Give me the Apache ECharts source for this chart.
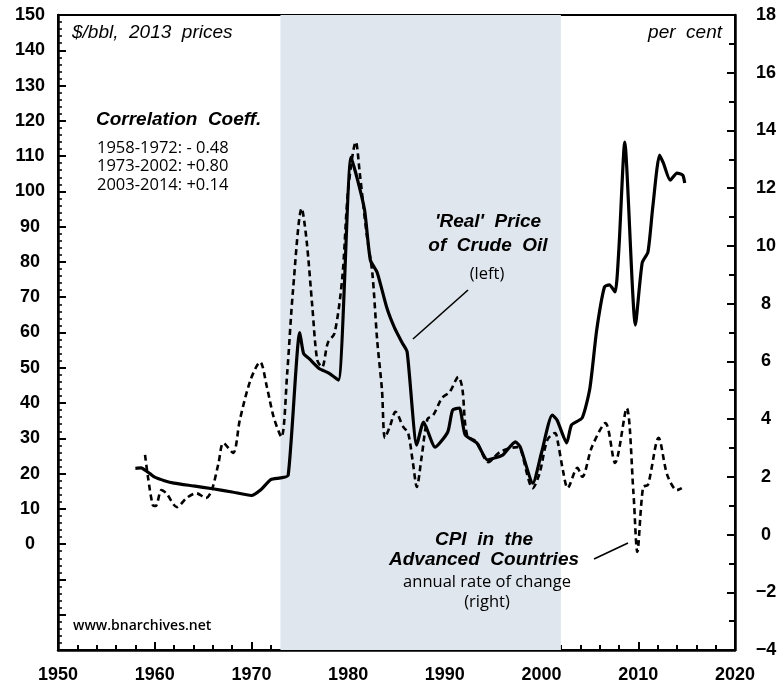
<!DOCTYPE html>
<html>
<head>
<meta charset="utf-8">
<title>Real oil price vs CPI</title>
<script src="https://cdn.jsdelivr.net/npm/echarts@6/dist/echarts.min.js"></script>
<style>
  html, body { margin: 0; padding: 0; background: #fff; }
  #chart { width: 784px; height: 687px; }
</style>
</head>
<body>
<div id="chart"></div>
<script>
// 'real' price of crude oil, $/bbl 2013 prices (left axis)
const oilYears = [
  1958.0, 1958.6, 1959.0, 1959.5, 1960.0, 1961.0, 1962.0, 1964.0, 1966.0, 1968.0,
  1970.0, 1971.0, 1972.0, 1973.0, 1973.8, 1975.0, 1975.4, 1976.0, 1977.0, 1978.0,
  1979.0, 1980.3, 1981.0, 1981.7, 1982.3, 1983.0, 1984.0, 1984.8, 1985.6, 1986.1,
  1987.1, 1987.8, 1989.0, 1990.3, 1990.8, 1991.5, 1992.1, 1993.3, 1994.4, 1995.2,
  1996.0, 1997.3, 1997.8, 1999.1, 2000.0, 2001.1, 2001.6, 2002.6, 2003.1, 2004.2,
  2005.0, 2005.7, 2006.5, 2007.0, 2007.6, 2008.0, 2008.6, 2009.7, 2010.4, 2011.0,
  2011.5, 2012.2, 2012.6, 2013.3, 2014.0, 2014.6, 2014.8
]
const oilPrice = [
  21.5, 21.6, 21.0, 20.0, 19.0, 18.0, 17.3, 16.5, 15.7, 14.8,
  13.8, 15.5, 18.3, 18.8, 19.5, 60.0, 54.0, 52.5, 49.8, 48.5,
  46.5, 109.7, 103.0, 94.7, 80.5, 77.0, 67.0, 61.3, 57.0, 54.5,
  28.1, 34.6, 27.5, 31.8, 38.0, 38.6, 31.0, 28.7, 23.9, 24.5,
  25.3, 29.0, 27.5, 17.3, 26.0, 36.6, 35.2, 28.7, 33.8, 35.8,
  44.3, 60.7, 72.9, 73.5, 71.5, 84.0, 114.0, 62.1, 79.7, 82.8,
  95.6, 110.3, 108.0, 103.2, 105.2, 104.6, 102.4
]

// CPI in the advanced countries, annual rate of change, per cent (right axis)
const cpiYears = [
  1959.0, 1959.3, 1959.8, 1960.1, 1960.7, 1961.2, 1962.3, 1963.3, 1964.3, 1965.3,
  1965.9, 1966.6, 1967.1, 1968.1, 1968.8, 1969.9, 1970.9, 1971.6, 1972.3, 1973.1,
  1973.7, 1974.3, 1975.2, 1975.7, 1976.3, 1976.8, 1977.3, 1977.9, 1978.6, 1979.4,
  1980.0, 1980.8, 1981.2, 1981.9, 1982.5, 1983.0, 1983.5, 1983.8, 1984.3, 1984.9,
  1985.7, 1986.2, 1986.7, 1987.1, 1987.6, 1988.2, 1988.8, 1989.7, 1990.5, 1991.4,
  1991.8, 1992.3, 1993.3, 1994.5, 1995.7, 1997.5, 1997.8, 1999.1, 1999.8, 2000.6,
  2001.4, 2001.7, 2002.2, 2002.7, 2003.7, 2004.2, 2005.2, 2006.6, 2007.6, 2008.8,
  2009.5, 2009.9, 2010.5, 2011.0, 2012.1, 2013.0, 2014.0, 2014.5
]
const cpiRate = [
  2.76, 2.0, 1.02, 0.99, 1.54, 1.43, 0.95, 1.27, 1.43, 1.27,
  1.54, 2.48, 3.17, 2.83, 3.97, 5.35, 5.98, 5.11, 4.07, 3.38,
  5.6, 8.47, 11.3, 10.2, 7.88, 6.05, 5.8, 6.64, 6.98, 8.92,
  11.94, 13.6, 12.53, 10.45, 9.06, 6.74, 5.0, 3.35, 3.73, 4.25,
  3.73, 3.52, 2.48, 1.65, 2.69, 4.0, 4.14, 4.73, 4.94, 5.46,
  5.08, 3.45, 3.2, 2.51, 2.86, 3.03, 3.0, 1.61, 2.13, 3.28,
  3.52, 3.17, 2.24, 1.61, 2.31, 2.0, 3.03, 3.86, 2.48, 4.38,
  1.44, -0.6, 1.65, 1.72, 3.35, 2.06, 1.54, 1.61
]

// shaded period
const shadeFrom = 1973
const shadeTo = 2002

const corrLines = ['1958-1972: - 0.48', '1973-2002: +0.80', '2003-2014: +0.14']

const chart = echarts.init(document.getElementById('chart'), null, { renderer: 'canvas' })

const axisFont = { fontFamily: 'Liberation Sans', fontWeight: 'bold', fontSize: 18, color: '#000' }
const boldItalic = 'italic bold 19px "Liberation Sans"'
const plain = '16.5px "Open Sans"'
const unitFont = 'italic 19px "Liberation Sans"'
const tickStyle = { color: '#000', width: 2 }

// helper for the free-standing annotation texts
function label(text, x, y, font, align) {
  return {
    type: 'text', x, y, z: 10,
    style: { text, font, fill: '#000', textAlign: align || 'left', textVerticalAlign: 'middle' }
  }
}

const option = {
  animation: false,
  backgroundColor: '#fff',
  grid: {
    left: 58, right: 49, top: 15, bottom: 37,
    show: true, borderColor: '#000', borderWidth: 2, backgroundColor: 'transparent'
  },
  xAxis: {
    type: 'value',
    min: 1950, max: 2020, interval: 10,
    axisLine: { show: true, onZero: false, lineStyle: { color: '#000', width: 2.5 } },
    axisTick: { show: true, inside: true, length: 8, lineStyle: tickStyle },
    minorTick: { show: true, splitNumber: 5, length: 5, lineStyle: tickStyle },
    splitLine: { show: false },
    minorSplitLine: { show: false },
    axisLabel: { ...axisFont, margin: 16, formatter: v => String(v) }
  },
  yAxis: [
    {
      type: 'value',
      min: -30, max: 150, interval: 10,
      axisLine: { show: true, onZero: false, lineStyle: { color: '#000', width: 2.5 } },
      axisTick: { show: true, inside: true, length: 8, lineStyle: tickStyle },
      minorTick: { show: true, splitNumber: 5, length: 4, lineStyle: { color: '#000', width: 1.5 } },
      splitLine: { show: false },
      minorSplitLine: { show: false },
      axisLabel: { ...axisFont, align: 'center', margin: 28, formatter: v => (v < 0 ? '' : String(v)) }
    },
    {
      type: 'value',
      position: 'right',
      min: -4, max: 18, interval: 2,
      axisLine: { show: true, onZero: false, lineStyle: { color: '#000', width: 2.5 } },
      axisTick: { show: true, inside: true, length: 8, lineStyle: tickStyle },
      minorTick: { show: true, splitNumber: 2, length: 6, lineStyle: tickStyle },
      splitLine: { show: false },
      minorSplitLine: { show: false },
      axisLabel: { ...axisFont, align: 'center', margin: 31, formatter: v => (v < 0 ? '\u2212' + (-v) : String(v)) }
    }
  ],
  series: [
    {
      name: "'Real' Price of Crude Oil",
      type: 'line',
      yAxisIndex: 0,
      data: oilYears.map((y, i) => [y, oilPrice[i]]),
      smooth: 0.2,
      symbol: 'none',
      z: 3,
      lineStyle: { color: '#000', width: 3.2 },
      markArea: {
        silent: true,
        itemStyle: { color: '#dfe6ed' },
        data: [[{ xAxis: shadeFrom }, { xAxis: shadeTo }]]
      }
    },
    {
      name: 'CPI in the Advanced Countries',
      type: 'line',
      yAxisIndex: 1,
      data: cpiYears.map((y, i) => [y, cpiRate[i]]),
      smooth: 0.3,
      symbol: 'none',
      z: 4,
      lineStyle: { color: '#000', width: 2.6, type: [6, 4] }
    }
  ],
  graphic: [
    label('$/bbl,  2013  prices', 72, 33, unitFont),
    label('per  cent', 722, 33, unitFont, 'right'),
    label('Correlation  Coeff.', 96, 120, boldItalic),
    ...corrLines.map((t, i) => label(t, 97, 148 + i * 18.5, plain)),
    label("'Real'  Price", 488, 222, boldItalic, 'center'),
    label('of  Crude  Oil', 488, 246, boldItalic, 'center'),
    label('(left)', 487, 274, plain, 'center'),
    { type: 'line', z: 10, shape: { x1: 413, y1: 339, x2: 468, y2: 290 }, style: { stroke: '#000', lineWidth: 1.6 } },
    label('CPI  in  the', 484, 540, boldItalic, 'center'),
    label('Advanced  Countries', 484, 560, boldItalic, 'center'),
    label('annual rate of change', 487, 582, plain, 'center'),
    label('(right)', 487, 602, plain, 'center'),
    { type: 'line', z: 10, shape: { x1: 594, y1: 559, x2: 628, y2: 543 }, style: { stroke: '#000', lineWidth: 1.6 } },
    label('www.bnarchives.net', 73, 626, '600 14px "Open Sans"')
  ]
}

chart.setOption(option)
</script>
</body>
</html>
